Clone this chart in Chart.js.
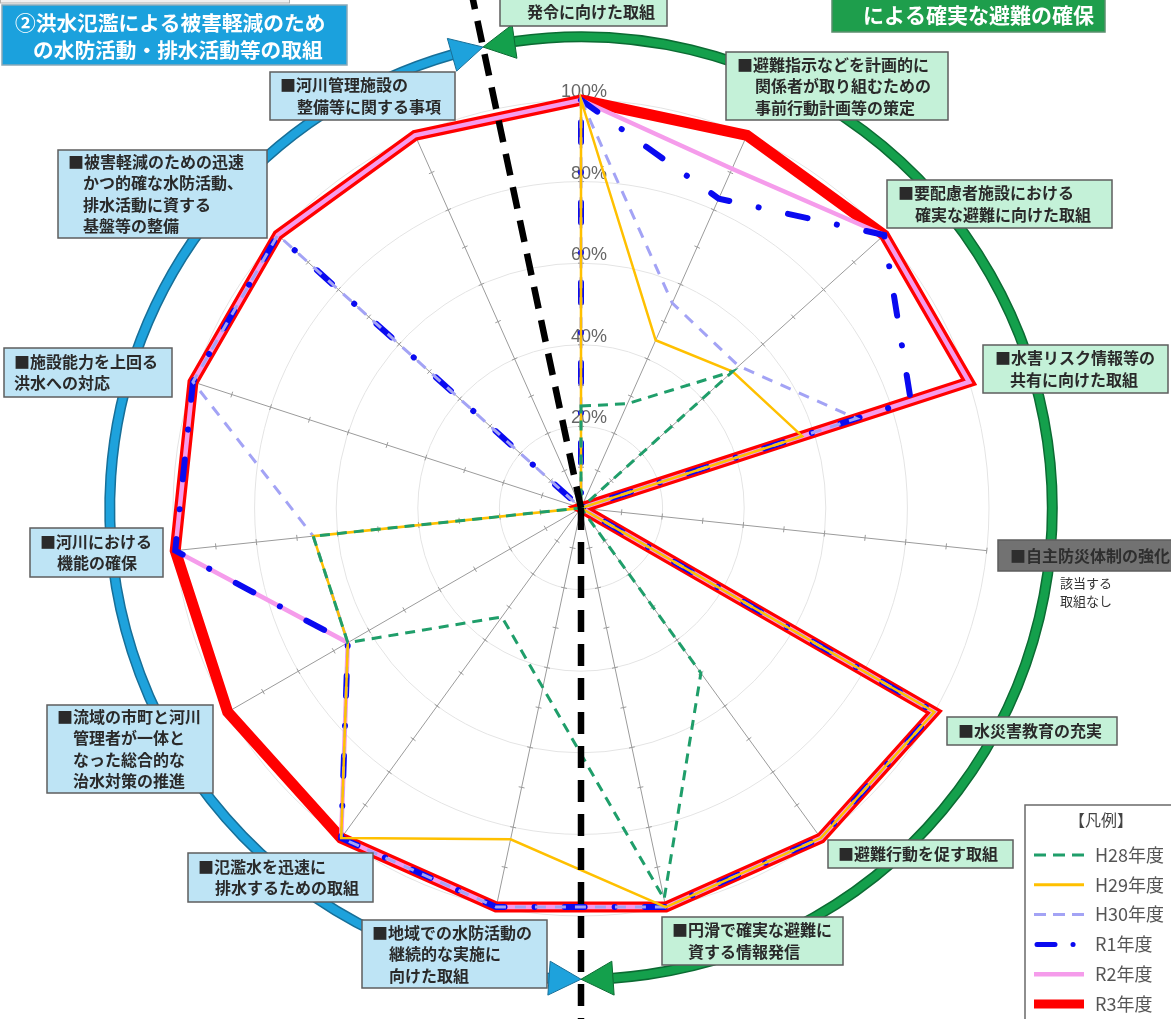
<!DOCTYPE html>
<html><head><meta charset="utf-8">
<script src="https://cdn.jsdelivr.net/npm/chart.js@4/dist/chart.umd.min.js"></script>
<style>html,body{margin:0;padding:0;background:#fff;overflow:hidden}#wrap{position:relative;width:1171px;height:1019px}</style>
</head><body><div id="wrap"><canvas id="c" width="1171" height="1019"></canvas></div>
<script>
// ---- data ----
const categories = [
  ["発令に向けた取組"],
  ["■避難指示などを計画的に","関係者が取り組むための","事前行動計画等の策定"],
  ["■要配慮者施設における","確実な避難に向けた取組"],
  ["■水害リスク情報等の","共有に向けた取組"],
  ["■自主防災体制の強化"],
  ["■水災害教育の充実"],
  ["■避難行動を促す取組"],
  ["■円滑で確実な避難に","資する情報発信"],
  ["■地域での水防活動の","継続的な実施に","向けた取組"],
  ["■氾濫水を迅速に","排水するための取組"],
  ["■流域の市町と河川","管理者が一体と","なった総合的な","治水対策の推進"],
  ["■河川における","機能の確保"],
  ["■施設能力を上回る","洪水への対応"],
  ["■被害軽減のための迅速","かつ的確な水防活動、","排水活動に資する","基盤等の整備"],
  ["■河川管理施設の","整備等に関する事項"]
];
const noActionNote = ["該当する","取組なし"];
const seriesNames = ["H28年度","H29年度","H30年度","R1年度","R2年度","R3年度"];
const h28 = [25, 28, 50, 0, 0, 0, 50, 98, 45, 33, 66, 66, 0, 0, 0];
const h29 = [100, 45, 50, 57, 0, 100, 100, 100, 83, 100, 66, 66, 0, 0, 0];
const h30 = [100, 55, 52, 71, 0, 100, 100, 100, 100, 100, 66, 66, 100, 100, 0];
const r1  = [100, 83, 100, 85, 0, 100, 100, 100, 100, 100, 66, 100, 100, 100, 0];
const r2  = [100, 91, 100, 100, 0, 100, 100, 100, 100, 100, 66, 100, 100, 100, 100];
const r3  = [100, 100, 100, 100, 0, 100, 100, 100, 100, 100, 100, 100, 100, 100, 100];
const tickValues = [20, 40, 60, 80, 100];
const tickLabels = ["20%", "40%", "60%", "80%", "100%"];
const minorTickValues = [10,20,30,40,50,60,70,80,90,100];
const titleLeft = ["②洪水氾濫による被害軽減のため", "の水防活動・排水活動等の取組"];
const titleRight = ["による確実な避難の確保"];
const legendTitle = "【凡例】";

// ---- styles / layout ----
const seriesValues = [h28, h29, h30, r1, r2, r3];
const styles = [
  {color:'#1f9e6a', width:3, dash:[10,7], cap:'butt'},
  {color:'#ffc000', width:2.5, dash:[], cap:'butt'},
  {color:'#a3a3f5', width:3, dash:[11,9], cap:'butt'},
  {color:'#0a0af0', width:6, dash:[20,30,0.1,30], cap:'round'},
  {color:'#f59ceb', width:4.5, dash:[], cap:'butt'},
  {color:'#ff0000', width:11, dash:[], cap:'butt'}
];
// label boxes: x,y,w,h, first-line left pad, indent of later lines, kind
const boxLayout = [
  {x:500,y:-2,w:167,h:28,tx:27,ind:0,k:'g'},
  {x:726,y:52,w:222,h:68,tx:11,ind:18,k:'g'},
  {x:887,y:180,w:225,h:48,tx:11,ind:17,k:'g'},
  {x:983,y:345,w:185,h:48,tx:12,ind:15,k:'g'},
  {x:998,y:540,w:220,h:31,tx:12,ind:0,k:'x'},
  {x:947,y:717,w:170,h:28,tx:11,ind:0,k:'g'},
  {x:828,y:840,w:185,h:28,tx:10,ind:0,k:'g'},
  {x:662,y:917,w:181,h:48,tx:10,ind:16,k:'g'},
  {x:362,y:920,w:185,h:68,tx:10,ind:17,k:'b'},
  {x:188,y:853,w:185,h:49,tx:10,ind:17,k:'b'},
  {x:47,y:705,w:166,h:88,tx:10,ind:16,k:'b'},
  {x:30,y:528,w:133,h:49,tx:10,ind:17,k:'b'},
  {x:4,y:348,w:168,h:49,tx:10,ind:0,k:'b'},
  {x:58,y:150,w:209,h:88,tx:10,ind:15,k:'b'},
  {x:270,y:72,w:185,h:48,tx:10,ind:17,k:'b'}
];
const boxFill = {g:'#c4f1d8', b:'#bee4f5', x:'#727272'};
const JP = '"Noto Sans CJK JP", "Noto Sans", sans-serif';

const decor = {
  id:'decor',
  beforeDatasetsDraw(chart){
    const s = chart.scales.r, ctx = chart.ctx;
    ctx.save();
    ctx.strokeStyle = '#9b9b9b'; ctx.lineWidth = 1;
    for (let i = 0; i < categories.length; i++){
      minorTickValues.forEach(v => {
        const p = s.getPointPosition(i, s.getDistanceFromCenterForValue(v));
        const nx = -Math.sin(p.angle), ny = Math.cos(p.angle);
        ctx.beginPath();
        ctx.moveTo(p.x - nx*3, p.y - ny*3);
        ctx.lineTo(p.x + nx*3, p.y + ny*3);
        ctx.stroke();
      });
    }
    ctx.font = '18px "Liberation Sans", Arial, sans-serif';
    ctx.fillStyle = '#666'; ctx.textAlign = 'right'; ctx.textBaseline = 'middle';
    tickValues.forEach((v, k) => {
      const p = s.getPointPosition(0, s.getDistanceFromCenterForValue(v));
      ctx.fillText(tickLabels[k], p.x + 26, p.y - 8);
    });
    ctx.restore();
  },
  afterDatasetsDraw(chart){
    const s = chart.scales.r, ctx = chart.ctx;
    const cx = s.xCenter, cy = s.yCenter, R = s.drawingArea * 1.155;
    const n = categories.length;
    const aTop = s.getIndexAngle(n - 0.5) - Math.PI/2;
    const aBot = s.getIndexAngle(n / 2) - Math.PI/2;
    const L = 32, d = L / R, hw = 17;
    const P = (a, r) => ({x: cx + Math.cos(a)*r, y: cy + Math.sin(a)*r});
    ctx.save();
    function arc(a0, a1, col, dark){
      ctx.beginPath(); ctx.arc(cx, cy, R, a0, a1, false);
      ctx.strokeStyle = dark; ctx.lineWidth = 11; ctx.stroke();
      ctx.beginPath(); ctx.arc(cx, cy, R, a0 - 0.002, a1 + 0.002, false);
      ctx.strokeStyle = col; ctx.lineWidth = 8; ctx.stroke();
    }
    function head(aTip, aBase, col, dark){
      const t = P(aTip, R), b1 = P(aBase, R - hw), b2 = P(aBase, R + hw);
      ctx.beginPath(); ctx.moveTo(t.x, t.y); ctx.lineTo(b1.x, b1.y); ctx.lineTo(b2.x, b2.y); ctx.closePath();
      ctx.fillStyle = col; ctx.fill(); ctx.strokeStyle = dark; ctx.lineWidth = 1; ctx.stroke();
    }
    const gC = '#14a04c', gD = '#0c6b33', bC = '#1ea2dc', bD = '#176f98';
    arc(aTop + d, aBot + 2*Math.PI - d, gC, gD);
    arc(aBot + d, aTop - d, bC, bD);
    head(aTop, aTop + d, gC, gD);
    head(aBot, aBot - d, gC, gD);
    head(aBot, aBot + d, bC, bD);
    head(aTop, aTop - d, bC, bD);

    ctx.textBaseline = 'middle'; ctx.textAlign = 'left';
    boxLayout.forEach((b, i) => {
      ctx.fillStyle = boxFill[b.k];
      ctx.fillRect(b.x, b.y, b.w, b.h);
      ctx.strokeStyle = '#5e5e5e'; ctx.lineWidth = 1.5;
      ctx.strokeRect(b.x, b.y, b.w, b.h);
      const lines = categories[i], lh = 21.5;
      const y0 = b.y + (b.h - (lines.length - 1) * lh) / 2;
      ctx.font = 'bold 16px ' + JP;
      ctx.fillStyle = b.k === 'x' ? '#2e2e2e' : '#2a2a2a';
      lines.forEach((t, j) => ctx.fillText(t, b.x + b.tx + (j > 0 ? b.ind : 0), y0 + j * lh));
    });
    ctx.font = '13px ' + JP; ctx.fillStyle = '#333';
    noActionNote.forEach((t, j) => ctx.fillText(t, 1060, 583 + j * 18));

    ctx.fillStyle = '#f0f0f0'; ctx.fillRect(0, -20, 290, 23);
    ctx.strokeStyle = '#b0b0b0'; ctx.lineWidth = 1; ctx.strokeRect(0.5, -20, 289, 23);
    ctx.fillStyle = '#1ba1dd'; ctx.fillRect(2, 5, 345, 60);
    ctx.strokeStyle = '#8aa9b8'; ctx.lineWidth = 1.5; ctx.strokeRect(2, 5, 345, 60);
    ctx.fillStyle = '#ffffff'; ctx.font = 'bold 20.7px ' + JP;
    ctx.fillText(titleLeft[0], 15, 23);
    ctx.fillText(titleLeft[1], 33, 50);
    ctx.fillStyle = '#1e9e4c'; ctx.fillRect(832, -30, 273, 62);
    ctx.strokeStyle = '#5b8f6d'; ctx.strokeRect(832, -30, 273, 62);
    ctx.fillStyle = '#ffffff'; ctx.font = 'bold 21px ' + JP;
    ctx.fillText(titleRight[0], 863, 15);

    ctx.fillStyle = '#fff'; ctx.fillRect(1025, 805, 170, 240);
    ctx.strokeStyle = '#6a6a6a'; ctx.lineWidth = 1.5; ctx.strokeRect(1025, 805, 170, 240);
    ctx.fillStyle = '#444'; ctx.font = '16px ' + JP; ctx.textAlign = 'center';
    ctx.fillText(legendTitle, 1101, 820);
    ctx.textAlign = 'left'; ctx.font = '18px ' + JP;
    seriesNames.forEach((name, k) => {
      const y = 855 + k * 29.8, st = styles[k];
      ctx.save();
      ctx.strokeStyle = st.color; ctx.lineCap = st.cap;
      ctx.lineWidth = k === 5 ? 9 : (k === 3 ? 5 : Math.max(st.width, 3));
      ctx.setLineDash(k === 3 ? [18, 18, 0.1, 40] : (k === 0 || k === 2 ? [12, 7] : []));
      ctx.beginPath(); ctx.moveTo(k === 3 ? 1037 : 1034, y); ctx.lineTo(1084, y); ctx.stroke();
      ctx.restore();
      ctx.fillStyle = '#555';
      ctx.fillText(name, 1095, y);
    });

    ctx.strokeStyle = '#000'; ctx.lineWidth = 6.5; ctx.setLineDash([22, 12]); ctx.lineCap = 'butt';
    [aTop, aBot].forEach(a => {
      const e = P(a, 720);
      ctx.beginPath(); ctx.moveTo(cx, cy); ctx.lineTo(e.x, e.y); ctx.stroke();
    });
    ctx.restore();
  }
};

new Chart(document.getElementById('c'), {
  type: 'radar',
  data: {
    labels: categories,
    datasets: seriesNames.map((name, k) => ({
      label: name,
      data: seriesValues[k],
      borderColor: styles[k].color,
      borderWidth: styles[k].width,
      borderDash: styles[k].dash,
      borderCapStyle: styles[k].cap,
      borderJoinStyle: 'miter',
      fill: false, pointRadius: 0, pointHoverRadius: 0, pointHitRadius: 0, tension: 0
    }))
  },
  options: {
    responsive: false, animation: false, devicePixelRatio: 1,
    layout: {padding: {left: 173, right: 182, top: 100, bottom: 103}},
    plugins: {legend: {display: false}, tooltip: {enabled: false}},
    scales: {
      r: {
        min: 0, max: 100, startAngle: 0,
        ticks: {display: false, stepSize: 20},
        pointLabels: {display: false},
        grid: {circular: true, color: '#e4e4e4', lineWidth: 1},
        angleLines: {color: '#9b9b9b', lineWidth: 1},
        afterFit(sc){
          sc.xCenter = sc.left + sc.width / 2;
          sc.yCenter = sc.top + sc.height / 2;
          sc.drawingArea = Math.min(sc.width, sc.height) / 2;
        }
      }
    }
  },
  plugins: [decor]
});
</script></body></html>
